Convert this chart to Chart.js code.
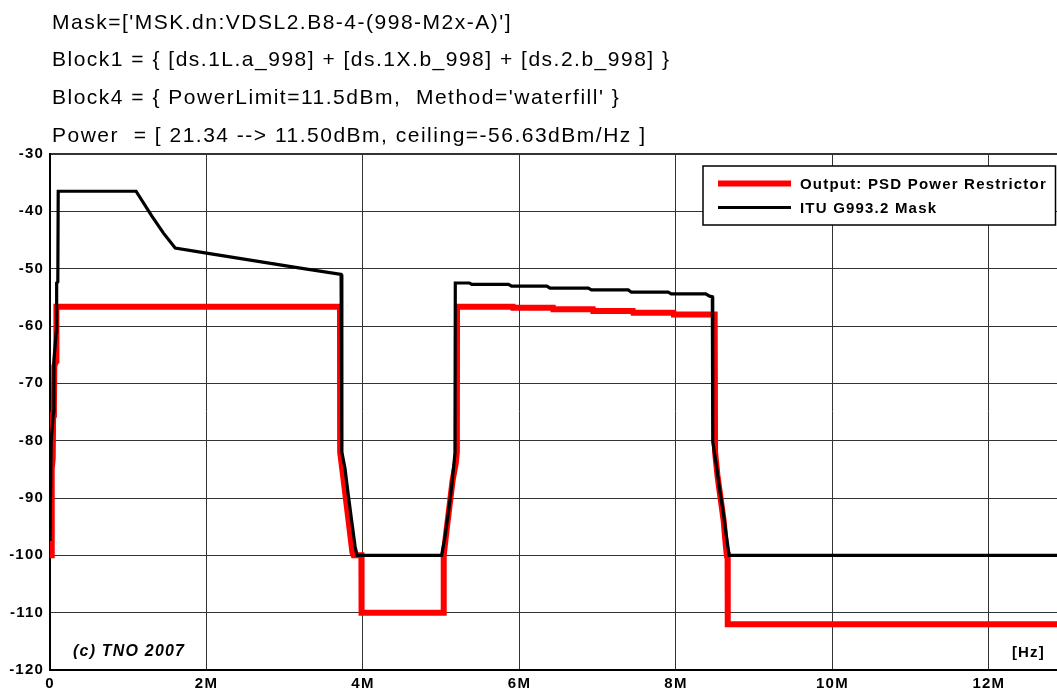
<!DOCTYPE html>
<html>
<head>
<meta charset="utf-8">
<title>PSD power restrictor</title>
<script src="https://cdn.jsdelivr.net/npm/chart.js@4/dist/chart.umd.min.js"></script>
<style>
  html, body { margin: 0; padding: 0; background: #fff; }
  #wrap { width: 1057px; height: 691px; }
</style>
</head>
<body>
<div id="wrap"><canvas id="chart" width="1057" height="691"></canvas></div>
<script>
// psd restrictor output vs. the G993.2 limit mask. freq in MHz, level in dBm/Hz.

const headerLines = [
  "Mask=['MSK.dn:VDSL2.B8-4-(998-M2x-A)']",
  "Block1 = { [ds.1L.a_998] + [ds.1X.b_998] + [ds.2.b_998] }",
  "Block4 = { PowerLimit=11.5dBm,  Method='waterfill' }",
  "Power  = [ 21.34 --> 11.50dBm, ceiling=-56.63dBm/Hz ]",
];
const noteText = "(c) TNO 2007";
const unitText = "[Hz]";

const xTicks = [0, 2, 4, 6, 8, 10, 12];
const xMax = 12.87;
const yTicks = [-120, -110, -100, -90, -80, -70, -60, -50, -40, -30];

// ITU G993.2 mask (black)
const maskLabel = "ITU G993.2 Mask";
const maskFreq = [
  0, 0.012, 0.015, 0.045, 0.05, 0.08, 0.085, 0.1, 0.105,
  1.1, 1.3, 1.45, 1.6, 2.0, 2.6, 3.2, 3.72,
  3.73, 3.77, 3.81, 3.855, 3.9, 3.925,
  5.005, 5.048, 5.09, 5.133, 5.176, 5.18,
  5.36, 5.39, 5.86, 5.9, 6.35, 6.39, 6.88, 6.92, 7.39, 7.43, 7.9, 7.94, 8.38, 8.43, 8.465,
  8.47, 8.52, 8.56, 8.6, 8.64, 8.68, 12.87,
];
const maskDb = [
  -97.5, -97.5, -80, -75, -66, -61, -52.5, -52.3, -36.5,
  -36.5, -40.8, -43.8, -46.4, -47.3, -48.6, -49.9, -51,
  -82, -84.8, -89.2, -93.9, -98.5, -100,
  -100, -96.8, -92.7, -88.1, -82.2, -52.5,
  -52.5, -52.75, -52.75, -53.05, -53.05, -53.4, -53.4, -53.7, -53.7, -54.1, -54.1, -54.4, -54.4, -54.8, -54.9,
  -80.2, -84.6, -88.6, -92.1, -96.2, -100, -100,
];

// restrictor output (red)
const outLabel = "Output: PSD Power Restrictor";
const outFreq = [
  0, 0.02, 0.022, 0.035, 0.04, 0.05, 0.055, 0.08, 0.082,
  3.706, 3.708, 3.745, 3.785, 3.825, 3.865, 3.88, 3.98, 3.982,
  5.03, 5.032, 5.065, 5.105, 5.145, 5.185, 5.2, 5.202,
  5.92, 5.925, 6.43, 6.435, 6.94, 6.945, 7.45, 7.455, 7.97, 7.975, 8.495,
  8.5, 8.53, 8.57, 8.61, 8.635, 8.65, 8.66, 8.662, 12.87,
];
const outDb = [
  -100, -100, -85, -83, -75.5, -74, -67, -66, -56.63,
  -56.63, -82, -86, -90.5, -95, -99.5, -100, -100, -110,
  -110, -100, -96, -91.5, -87, -84, -82, -56.63,
  -56.63, -56.8, -56.8, -57.1, -57.1, -57.4, -57.4, -57.7, -57.7, -58.0, -58.0,
  -82, -86, -90, -94, -98, -100, -100, -112, -112,
];

const FONT = '"Liberation Sans", Arial, sans-serif';

const pts = (xs, ys) => xs.map((x, i) => ({ x, y: ys[i] }));

// header text, copyright note, unit and the boxed legend
const overlay = {
  id: "overlay",
  beforeDraw(chart) {
    chart.ctx.letterSpacing = "1.2px";
  },
  beforeDatasetsDraw(chart) {
    // square corners stay mitered, the tiny steps don't spike
    chart.ctx.miterLimit = 2;
  },
  afterDraw(chart) {
    const { ctx, chartArea: a } = chart;
    ctx.save();
    ctx.letterSpacing = "1.5px";
    ctx.fillStyle = "#000";
    ctx.textAlign = "left";
    ctx.textBaseline = "alphabetic";
    ctx.font = "21px " + FONT;
    headerLines.forEach((t, i) => ctx.fillText(t, a.left + 2, 28.5 + i * 37.7));

    ctx.letterSpacing = "1.2px";
    ctx.textBaseline = "middle";
    ctx.font = "italic bold 16px " + FONT;
    ctx.fillText(noteText, a.left + 23, a.bottom - 18);
    ctx.textAlign = "right";
    ctx.font = "bold 15px " + FONT;
    ctx.fillText(unitText, a.right - 12, a.bottom - 17);

    // legend
    const lx = 703, ly = 166, lw = 352.5, lh = 59;
    ctx.fillStyle = "#fff";
    ctx.fillRect(lx, ly, lw, lh);
    ctx.strokeStyle = "#000";
    ctx.lineWidth = 1.5;
    ctx.strokeRect(lx, ly, lw, lh);
    ctx.textAlign = "left";
    ctx.font = "bold 15px " + FONT;
    const items = [chart.data.datasets[0], chart.data.datasets[1]];
    items.forEach((ds, i) => {
      const y = ly + 17.5 + i * 24;
      ctx.strokeStyle = ds.borderColor;
      ctx.lineWidth = ds.borderWidth;
      ctx.beginPath();
      ctx.moveTo(lx + 15, y);
      ctx.lineTo(lx + 88, y);
      ctx.stroke();
      ctx.fillStyle = "#000";
      ctx.fillText(ds.label, lx + 97, y + 1);
    });
    ctx.restore();
  },
};

new Chart(document.getElementById("chart"), {
  type: "line",
  data: {
    datasets: [
      {
        label: outLabel,
        data: pts(outFreq, outDb),
        borderColor: "#ff0000",
        borderWidth: 6,
        borderJoinStyle: "miter",
        pointRadius: 0,
        tension: 0,
        order: 1,
      },
      {
        label: maskLabel,
        data: pts(maskFreq, maskDb),
        borderColor: "#000000",
        borderWidth: 3.2,
        borderJoinStyle: "miter",
        pointRadius: 0,
        tension: 0,
        order: 0,
      },
    ],
  },
  options: {
    responsive: false,
    animation: false,
    layout: { padding: { top: 154, left: 0, right: 0, bottom: 0 } },
    plugins: {
      legend: { display: false },
      tooltip: { enabled: false },
      title: { display: false },
    },
    scales: {
      x: {
        type: "linear",
        min: 0,
        max: xMax,
        afterFit: (s) => { s.height = 21; },
        afterBuildTicks: (s) => { s.ticks = xTicks.map((v) => ({ value: v })); },
        ticks: {
          includeBounds: false,
          padding: 5,
          color: "#000",
          font: { family: FONT, size: 15, weight: "bold" },
          maxRotation: 0,
          callback: (v) => (v === 0 ? "0" : v + "M"),
        },
        grid: { color: "#333", lineWidth: 1, drawTicks: false },
        border: { color: "#000", width: 2 },
      },
      y: {
        min: -120,
        max: -30,
        afterFit: (s) => { s.width = 50; },
        afterBuildTicks: (s) => { s.ticks = yTicks.map((v) => ({ value: v })); },
        ticks: {
          padding: 6,
          color: "#000",
          font: { family: FONT, size: 15, weight: "bold" },
        },
        grid: {
          color: "#333",
          lineWidth: (c) => (c.tick && c.tick.value === -30 ? 2 : 1),
          drawTicks: false,
        },
        border: { color: "#000", width: 2 },
      },
    },
  },
  plugins: [overlay],
});
</script>
</body>
</html>
